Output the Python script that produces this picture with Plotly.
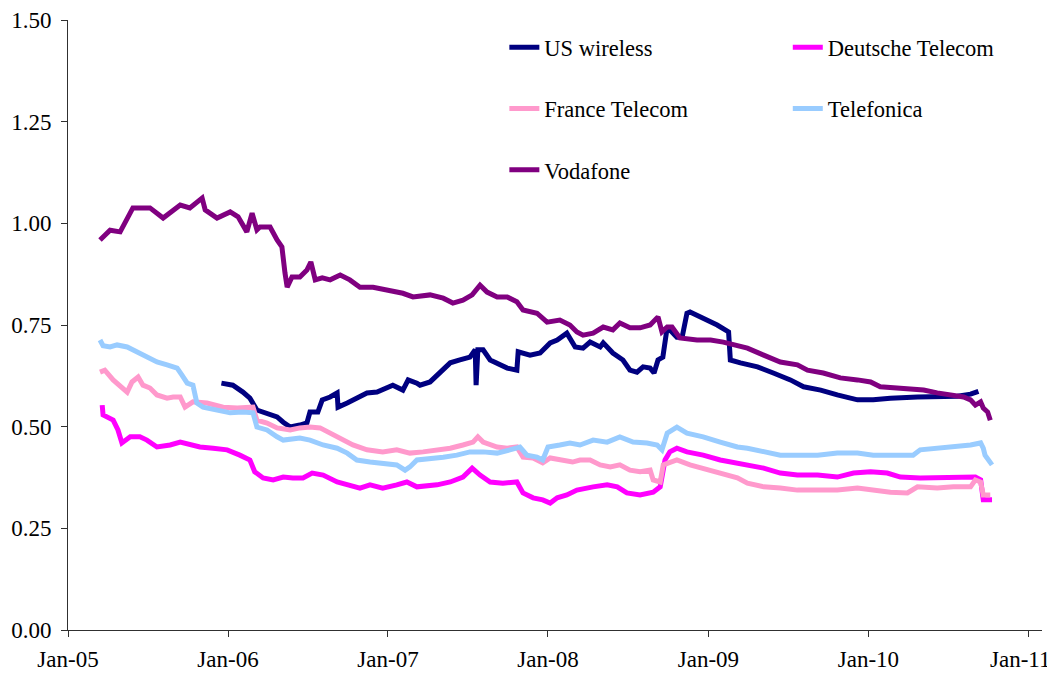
import plotly.graph_objects as go

# ---------------- data ----------------
us_dates = ["2005-12-17","2006-01-12","2006-02-04","2006-02-20","2006-03-08","2006-03-31","2006-04-23","2006-05-07","2006-05-23","2006-06-14","2006-06-30","2006-07-07","2006-07-25","2006-08-04","2006-08-22","2006-09-07","2006-09-09","2006-09-30","2006-10-22","2006-11-14","2006-12-07","2006-12-30","2007-01-12","2007-02-04","2007-02-16","2007-03-08","2007-03-15","2007-04-07","2007-04-30","2007-05-23","2007-06-14","2007-07-07","2007-07-19","2007-07-21","2007-07-25","2007-08-06","2007-08-22","2007-09-14","2007-09-30","2007-10-22","2007-10-25","2007-11-21","2007-12-14","2008-01-06","2008-01-22","2008-02-13","2008-02-25","2008-03-03","2008-03-21","2008-04-06","2008-04-29","2008-05-06","2008-05-28","2008-06-20","2008-07-06","2008-07-22","2008-08-05","2008-08-21","2008-08-30","2008-09-08","2008-09-19","2008-09-29","2008-10-05","2008-10-21","2008-11-02","2008-11-13","2008-11-20","2008-12-20","2009-01-21","2009-02-16","2009-02-20","2009-03-15","2009-04-23","2009-05-29","2009-07-07","2009-08-06","2009-09-14","2009-10-22","2009-12-07","2010-01-12","2010-02-20","2010-04-23","2010-06-07","2010-07-23","2010-08-22","2010-09-09"]
us_wireless = [0.607,0.602,0.585,0.570,0.541,0.534,0.524,0.511,0.499,0.504,0.509,0.536,0.536,0.566,0.573,0.583,0.548,0.558,0.570,0.583,0.585,0.598,0.602,0.590,0.615,0.607,0.602,0.610,0.632,0.657,0.664,0.671,0.689,0.602,0.689,0.689,0.664,0.652,0.644,0.639,0.684,0.676,0.681,0.706,0.713,0.730,0.708,0.696,0.693,0.708,0.696,0.706,0.681,0.664,0.639,0.634,0.647,0.644,0.632,0.664,0.671,0.745,0.738,0.720,0.720,0.779,0.782,0.767,0.750,0.733,0.664,0.657,0.647,0.632,0.615,0.598,0.590,0.578,0.566,0.566,0.570,0.573,0.575,0.575,0.580,0.587]

dt_dates = ["2005-03-20","2005-03-22","2005-04-14","2005-04-25","2005-05-04","2005-05-23","2005-06-14","2005-06-30","2005-07-23","2005-08-22","2005-09-14","2005-10-06","2005-10-29","2005-11-28","2005-12-30","2006-01-28","2006-02-20","2006-03-03","2006-03-22","2006-04-14","2006-05-07","2006-05-29","2006-06-21","2006-07-12","2006-08-06","2006-09-07","2006-09-30","2006-10-29","2006-11-21","2006-12-20","2007-01-21","2007-02-13","2007-03-08","2007-04-23","2007-05-23","2007-06-21","2007-07-12","2007-07-30","2007-08-22","2007-09-20","2007-10-22","2007-11-05","2007-11-28","2007-12-20","2008-01-06","2008-01-22","2008-02-13","2008-03-07","2008-04-13","2008-05-15","2008-06-07","2008-06-29","2008-07-29","2008-08-28","2008-09-13","2008-09-24","2008-10-05","2008-10-21","2008-11-13","2008-12-20","2009-01-28","2009-03-08","2009-03-31","2009-05-07","2009-06-14","2009-07-23","2009-09-07","2009-10-22","2009-11-28","2010-01-06","2010-02-13","2010-03-15","2010-04-29","2010-06-14","2010-07-29","2010-09-02","2010-09-14","2010-09-20","2010-10-10"]
deutsche_telecom = [0.553,0.529,0.516,0.492,0.460,0.475,0.475,0.467,0.450,0.455,0.462,0.455,0.450,0.447,0.443,0.430,0.418,0.389,0.374,0.369,0.376,0.374,0.374,0.386,0.381,0.364,0.357,0.349,0.357,0.349,0.357,0.364,0.352,0.357,0.364,0.376,0.398,0.381,0.364,0.361,0.364,0.337,0.325,0.320,0.312,0.325,0.332,0.344,0.352,0.357,0.352,0.337,0.332,0.339,0.352,0.418,0.438,0.447,0.438,0.430,0.418,0.411,0.406,0.398,0.386,0.381,0.381,0.376,0.386,0.389,0.386,0.376,0.374,0.374,0.376,0.376,0.369,0.320,0.320]

ft_dates = ["2005-03-15","2005-03-26","2005-04-14","2005-04-30","2005-05-16","2005-05-27","2005-06-10","2005-06-21","2005-07-07","2005-07-23","2005-08-15","2005-08-29","2005-09-14","2005-09-25","2005-10-13","2005-11-14","2005-12-21","2006-01-22","2006-02-13","2006-02-27","2006-03-08","2006-03-31","2006-04-23","2006-05-23","2006-06-14","2006-07-07","2006-07-30","2006-08-22","2006-09-20","2006-10-13","2006-11-14","2006-12-20","2007-01-21","2007-02-20","2007-03-22","2007-04-23","2007-05-23","2007-06-21","2007-07-14","2007-07-25","2007-08-06","2007-09-07","2007-09-30","2007-10-22","2007-11-05","2007-11-28","2007-12-20","2008-01-06","2008-01-28","2008-02-26","2008-03-14","2008-04-06","2008-04-29","2008-05-22","2008-06-13","2008-07-06","2008-07-29","2008-08-21","2008-08-28","2008-09-13","2008-09-20","2008-10-05","2008-10-21","2008-11-20","2008-12-20","2009-01-28","2009-03-08","2009-03-31","2009-05-07","2009-06-14","2009-07-23","2009-09-07","2009-10-22","2009-12-07","2010-01-12","2010-02-20","2010-03-31","2010-04-23","2010-06-07","2010-07-14","2010-08-22","2010-09-02","2010-09-14","2010-09-20","2010-10-06"]
france_telecom = [0.634,0.639,0.615,0.598,0.585,0.610,0.622,0.602,0.595,0.578,0.570,0.573,0.573,0.548,0.561,0.558,0.548,0.546,0.548,0.548,0.516,0.509,0.497,0.492,0.497,0.499,0.497,0.484,0.467,0.455,0.443,0.438,0.443,0.435,0.438,0.443,0.447,0.455,0.462,0.475,0.462,0.450,0.447,0.450,0.425,0.423,0.411,0.423,0.418,0.413,0.418,0.418,0.406,0.401,0.406,0.393,0.389,0.393,0.369,0.364,0.406,0.413,0.418,0.406,0.398,0.386,0.374,0.361,0.352,0.349,0.344,0.344,0.344,0.349,0.344,0.339,0.337,0.352,0.349,0.352,0.352,0.369,0.364,0.332,0.332]

tf_dates = ["2005-03-15","2005-03-22","2005-04-07","2005-04-23","2005-05-16","2005-06-07","2005-06-30","2005-07-23","2005-08-15","2005-09-07","2005-09-18","2005-09-30","2005-10-13","2005-10-22","2005-11-05","2005-12-07","2006-01-06","2006-02-04","2006-02-27","2006-03-08","2006-03-31","2006-04-23","2006-05-07","2006-06-14","2006-07-07","2006-08-06","2006-09-07","2006-09-30","2006-10-22","2006-11-21","2006-12-20","2007-01-21","2007-02-09","2007-02-20","2007-03-08","2007-04-07","2007-05-07","2007-06-07","2007-07-07","2007-08-06","2007-09-07","2007-10-06","2007-10-29","2007-11-14","2007-12-07","2007-12-20","2008-01-01","2008-01-28","2008-02-20","2008-03-14","2008-04-13","2008-05-15","2008-06-13","2008-07-13","2008-08-14","2008-09-06","2008-09-17","2008-09-29","2008-10-21","2008-11-13","2008-12-20","2009-01-28","2009-03-08","2009-03-31","2009-05-07","2009-06-14","2009-07-23","2009-09-07","2009-10-22","2009-12-07","2010-01-12","2010-02-20","2010-04-13","2010-04-29","2010-06-07","2010-07-14","2010-08-22","2010-09-14","2010-09-20","2010-09-24","2010-10-01","2010-10-10"]
telefonica = [0.713,0.699,0.696,0.701,0.696,0.684,0.671,0.659,0.652,0.644,0.627,0.607,0.602,0.558,0.548,0.541,0.534,0.536,0.534,0.499,0.492,0.475,0.467,0.472,0.467,0.455,0.447,0.435,0.418,0.413,0.411,0.406,0.393,0.401,0.418,0.423,0.425,0.430,0.438,0.438,0.435,0.443,0.450,0.430,0.425,0.418,0.450,0.455,0.460,0.455,0.467,0.462,0.475,0.462,0.460,0.455,0.443,0.484,0.499,0.484,0.475,0.462,0.450,0.447,0.438,0.430,0.430,0.430,0.435,0.435,0.430,0.430,0.430,0.443,0.447,0.450,0.455,0.460,0.447,0.430,0.418,0.406]

vf_dates = ["2005-03-15","2005-04-07","2005-04-30","2005-05-29","2005-07-07","2005-08-06","2005-09-14","2005-10-06","2005-11-03","2005-11-10","2005-12-07","2006-01-06","2006-01-24","2006-02-13","2006-02-25","2006-03-08","2006-03-15","2006-04-07","2006-04-23","2006-05-04","2006-05-11","2006-05-16","2006-05-27","2006-06-14","2006-06-30","2006-07-09","2006-07-19","2006-08-04","2006-08-22","2006-09-14","2006-10-06","2006-10-29","2006-11-28","2007-01-06","2007-02-04","2007-02-27","2007-04-07","2007-05-07","2007-05-29","2007-06-21","2007-07-12","2007-07-30","2007-08-15","2007-09-07","2007-09-30","2007-10-22","2007-11-05","2007-12-07","2007-12-30","2008-01-28","2008-02-20","2008-03-07","2008-03-21","2008-04-13","2008-05-06","2008-05-28","2008-06-13","2008-07-06","2008-07-29","2008-08-21","2008-09-08","2008-09-17","2008-09-29","2008-10-10","2008-10-21","2008-10-28","2008-12-06","2009-01-06","2009-02-04","2009-03-08","2009-03-31","2009-05-07","2009-06-14","2009-07-23","2009-08-15","2009-09-20","2009-10-29","2009-12-07","2010-01-06","2010-01-28","2010-02-27","2010-04-07","2010-05-07","2010-06-07","2010-07-14","2010-08-06","2010-08-22","2010-09-02","2010-09-14","2010-09-20","2010-09-30","2010-10-06"]
vodafone = [0.959,0.983,0.979,1.038,1.038,1.013,1.045,1.038,1.062,1.033,1.013,1.028,1.016,0.979,1.025,0.984,0.991,0.991,0.959,0.942,0.878,0.843,0.868,0.868,0.885,0.905,0.861,0.866,0.861,0.873,0.861,0.843,0.843,0.836,0.828,0.819,0.824,0.816,0.804,0.811,0.824,0.848,0.831,0.819,0.819,0.807,0.787,0.779,0.757,0.762,0.750,0.733,0.725,0.730,0.745,0.738,0.755,0.743,0.743,0.750,0.770,0.733,0.745,0.745,0.725,0.718,0.713,0.713,0.708,0.701,0.693,0.676,0.659,0.652,0.639,0.632,0.620,0.615,0.610,0.598,0.595,0.590,0.590,0.583,0.578,0.573,0.566,0.553,0.561,0.546,0.536,0.516]

y_tick_vals = [0, 0.25, 0.5, 0.75, 1.0, 1.25, 1.5]
x_tick_vals = ["2005-01-01","2006-01-01","2007-01-01","2008-01-01","2009-01-01","2010-01-01","2011-01-01"]
x_tick_text = ["Jan-05","Jan-06","Jan-07","Jan-08","Jan-09","Jan-10","Jan-11"]

series = [
    ("US wireless", us_dates, us_wireless, "#000080", "legend"),
    ("Deutsche Telecom", dt_dates, deutsche_telecom, "#FF00FF", "legend2"),
    ("France Telecom", ft_dates, france_telecom, "#FF99CC", "legend"),
    ("Telefonica", tf_dates, telefonica, "#99CCFF", "legend2"),
    ("Vodafone", vf_dates, vodafone, "#800080", "legend"),
]

FONT = "Liberation Serif, Times New Roman, serif"

fig = go.Figure()
for name, d, v, c, lg in series:
    fig.add_trace(go.Scatter(x=d, y=v, mode="lines", name=name,
                             line=dict(color=c, width=5),
                             legend=lg, legendgroup=name))

leg_common = dict(bgcolor="rgba(0,0,0,0)", font=dict(family=FONT, size=22.5, color="black"),
                  tracegroupgap=29, xanchor="left", yanchor="top", itemwidth=30)

# the last tick label would run off the page edge, so it is drawn as an
# annotation pulled just inside the right edge (as the original does)
shown_text = x_tick_text[:-1] + [""]

# page body adds an 8px offset; figure is sized so the plot area lands at x 68-1042, y 20-630
fig.update_layout(
    width=1047, height=666,
    paper_bgcolor="white", plot_bgcolor="white",
    margin=dict(l=60, r=13, t=12, b=44, autoexpand=False),
    font=dict(family=FONT, size=22, color="black"),
    showlegend=True,
    legend=dict(x=0.448, y=0.990, **leg_common),
    legend2=dict(x=0.739, y=0.990, **leg_common),
    xaxis=dict(type="date", range=["2005-01-01", "2011-02-01"],
               tickvals=x_tick_vals, ticktext=shown_text, automargin=False,
               ticklabeloverflow="allow",
               showgrid=False, zeroline=False, showline=True, linecolor="#303030", linewidth=1,
               ticks="outside", ticklen=6, tickcolor="#303030",
               tickfont=dict(family=FONT, size=23), ticklabelstandoff=2),
    yaxis=dict(range=[0, 1.5], tickvals=y_tick_vals, tickformat=".2f", automargin=False,
               ticklabeloverflow="allow",
               showgrid=False, zeroline=False, showline=True, linecolor="#303030", linewidth=1,
               ticks="outside", ticklen=6, tickcolor="#303030",
               tickfont=dict(family=FONT, size=23), ticklabelstandoff=5),
    annotations=[dict(text=x_tick_text[-1], xref="paper", yref="paper",
                      x=1.0103, y=0, xanchor="right", yanchor="top", yshift=-15,
                      showarrow=False, font=dict(family=FONT, size=23, color="black"))],
)

fig.write_html("out.html")
